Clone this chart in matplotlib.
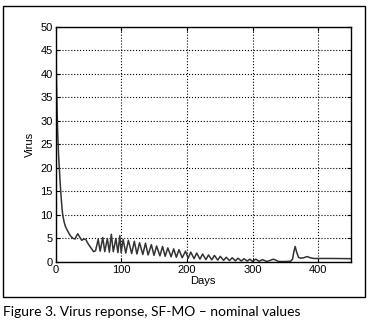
import matplotlib
matplotlib.use("Agg")
import matplotlib.pyplot as plt
from matplotlib.patches import Rectangle

# virus load (day, value) - peaks and troughs of the response
days = [0, 1, 2, 3, 4, 5, 6, 7, 8, 9, 10, 11, 13, 15, 17, 20, 23, 27, 30,
        32, 34, 36, 40, 43, 46, 50, 55, 58,
        61, 65, 68, 72, 75, 79, 82, 85, 88, 92, 95, 98,
        100, 103, 107, 111, 116, 120, 124, 128, 133, 137, 141, 146, 150, 154,
        159, 163, 167, 171, 176, 180, 184, 188, 193, 198, 202, 206, 211, 215,
        220, 224, 229, 233, 238, 242, 247, 251, 256, 260, 265, 269, 274, 278,
        283, 287, 292, 296, 300, 305, 310, 315, 322, 332, 340,
        350, 358, 361, 363, 365, 367, 370, 373, 378, 383, 388, 393, 400,
        420, 450]
virus = [50, 42, 35, 29, 25, 22, 19.5, 17, 15, 13, 11.3, 10, 8.6, 7.6, 7, 6.2, 5.5, 5, 4.9,
         5.6, 6, 5.5, 4.6, 4.9, 4.8, 3.8, 2.8, 2.2,
         2.4, 4.8, 2.3, 5.2, 2.2, 5.0, 2.1, 5.9, 2.2, 5.0, 2.0, 5.6,
         2.0, 4.8, 1.9, 4.6, 1.8, 4.4, 1.7, 4.1, 1.6, 4.0, 1.5, 3.7, 1.4, 3.4,
         1.3, 3.3, 1.2, 3.0, 1.1, 2.8, 1.0, 2.6, 0.9, 2.3, 0.8, 2.1, 0.7, 1.9,
         0.6, 1.7, 0.5, 1.5, 0.45, 1.4, 0.4, 1.2, 0.35, 1.0, 0.3, 0.9, 0.25, 0.8,
         0.2, 0.7, 0.2, 0.6, 0.15, 0.6, 0.15, 0.5, 0.1, 0.6, 0.1,
         0.1, 0.15, 0.6, 2.2, 3.3, 2.2, 1.0, 0.8, 0.9, 1.15, 0.9, 0.75, 0.75,
         0.75, 0.7]

xticks = [0, 100, 200, 300, 400]
yticks = [0, 5, 10, 15, 20, 25, 30, 35, 40, 45, 50]

plt.rcParams['font.family'] = ['Liberation Sans', 'DejaVu Sans']

fig = plt.figure(figsize=(3.71, 3.24), dpi=100)
ax = fig.add_axes([0.1496, 0.1914, 0.7965, 0.7253])

ax.plot(days, virus, color='#333333', lw=1.1)

ax.set_xlim(0, 450)
ax.set_ylim(0, 50)
ax.set_xticks(xticks)
ax.set_yticks(yticks)
ax.grid(True, color='k', linestyle=':', lw=0.8)
ax.tick_params(direction='in', length=3, labelsize=8, top=True, right=True, pad=2)
for s in ax.spines.values():
    s.set_linewidth(1.0)
ax.set_xlabel('Days', fontsize=8, labelpad=1)
ax.set_ylabel('Virus', fontsize=8, labelpad=4)

# outer frame around the figure panel
fig.patches.append(Rectangle((0.008, 0.083), 0.976, 0.898, transform=fig.transFigure,
                             fill=False, edgecolor='k', lw=1.0))

fig.text(0.008, 0.037, 'Figure 3. Virus reponse, SF-MO \u2013 nominal values',
         fontsize=10, family=['Lato', 'DejaVu Sans'], va='center', ha='left')

fig.savefig('out.png', dpi=100)
